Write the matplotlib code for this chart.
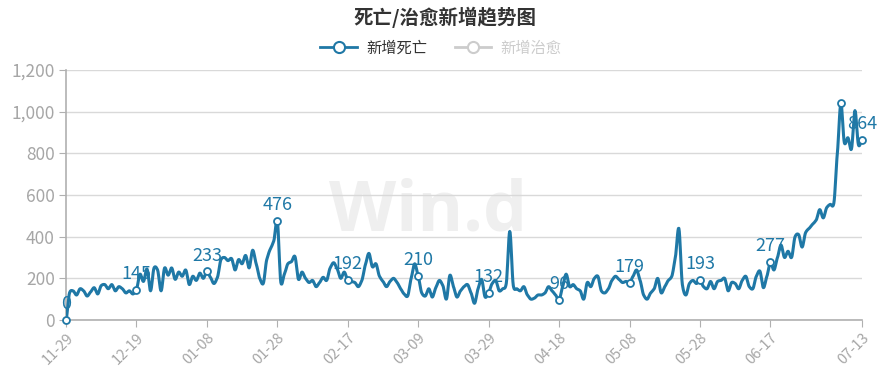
import matplotlib
matplotlib.use('Agg')

import matplotlib.pyplot as plt
from matplotlib.lines import Line2D
import numpy as np
import pandas as pd

plt.rcParams['font.family'] = ['Noto Sans CJK SC', 'DejaVu Sans']

# daily dates shown on the category axis
dates = pd.date_range('2022-11-29', '2023-07-13', freq='D').strftime('%m-%d').tolist()

# new deaths per day
deaths = [
    0, 130, 140, 120, 150, 140, 115, 135, 155, 125,
    165, 170, 150, 170, 140, 160, 150, 130, 140, 125,
    145, 220, 185, 245, 140, 250, 240, 140, 250, 215,
    250, 195, 230, 210, 240, 170, 210, 190, 225, 200,
    233, 205, 175, 205, 290, 300, 285, 295, 240, 290,
    270, 310, 250, 335, 270, 200, 175, 290, 340, 380,
    476, 180, 220, 270, 280, 305, 195, 230, 200, 180,
    190, 160, 180, 205, 190, 250, 275, 245, 200, 230,
    192, 185, 180, 160, 190, 265, 320, 255, 270, 210,
    185, 160, 185, 200, 180, 150, 125, 115, 200, 270,
    210, 130, 115, 150, 110, 155, 190, 165, 100, 215,
    160, 110, 140, 160, 170, 130, 80, 150, 195, 110,
    132, 175, 190, 140, 150, 175, 425, 165, 150, 140,
    160, 120, 100, 105, 120, 120, 130, 160, 140, 120,
    96, 160, 220, 160, 170, 150, 140, 100, 180, 160,
    200, 210, 140, 130, 150, 190, 210, 195, 180, 185,
    179, 210, 240, 190, 120, 100, 130, 150, 200, 130,
    160, 190, 210, 300, 440, 170, 120, 175, 190, 175,
    193, 160, 150, 185, 150, 185, 190, 200, 140, 180,
    175, 150, 190, 210, 160, 150, 210, 235, 155, 210,
    277, 240, 300, 360, 300, 330, 300, 400, 410, 350,
    420, 440, 460, 480, 530, 490, 540, 555, 560, 800,
    1040, 850, 875, 820, 1005, 840, 864,
]

# points with a marker, and which of them carry a value label
marker_idx = [0, 20, 40, 60, 80, 100, 120, 140, 160, 180, 200, 220, 226]
label_idx = [0, 20, 40, 60, 80, 100, 120, 140, 160, 180, 200, 226]
tick_idx = [0, 20, 40, 60, 80, 100, 120, 140, 160, 180, 200, 226]

y_ticks = [0, 200, 400, 600, 800, 1000, 1200]

LINE = '#1f78a6'
GRAY = '#a6a6a6'


def smooth(x, y, n=8):
    """Catmull-Rom style smoothing of the polyline"""
    x = np.asarray(x, float)
    y = np.asarray(y, float)
    ext = np.concatenate([[y[0]], y, [y[-1]]])
    xs, ys = [], []
    for i in range(len(y) - 1):
        p0, p1, p2, p3 = ext[i], ext[i + 1], ext[i + 2], ext[i + 3]
        m1 = (p2 - p0) / 2 * 0.7
        m2 = (p3 - p1) / 2 * 0.7
        t = np.linspace(0, 1, n, endpoint=False)
        h00 = 2 * t**3 - 3 * t**2 + 1
        h10 = t**3 - 2 * t**2 + t
        h01 = -2 * t**3 + 3 * t**2
        h11 = t**3 - t**2
        xs.append(x[i] + t * (x[i + 1] - x[i]))
        ys.append(h00 * p1 + h10 * m1 + h01 * p2 + h11 * m2)
    xs.append([x[-1]])
    ys.append([y[-1]])
    return np.concatenate(xs), np.concatenate(ys)


fig = plt.figure(figsize=(8.89, 3.87), dpi=100)
ax = fig.add_axes([66 / 889, 67 / 387, 796 / 889, 250 / 387])

x = np.arange(len(deaths))
sx, sy = smooth(x, deaths)
ax.plot(sx, sy, color=LINE, lw=2.2, zorder=3, solid_joinstyle='round')
ax.plot(x[marker_idx], np.array(deaths)[marker_idx], 'o', ms=5, mfc='white',
        mec=LINE, mew=1.3, zorder=4, clip_on=False)

for i in label_idx:
    ax.annotate(f'{deaths[i]}', (i, deaths[i]), xytext=(0, 5),
                textcoords='offset points', ha='center', va='bottom',
                fontsize=13, color=LINE, zorder=5)

# watermark
ax.text(0.455, 0.43, 'Win.d', transform=ax.transAxes, ha='center', va='center',
        fontsize=50, fontweight='bold', color='#efefef', zorder=0,
        family='Open Sans')

ax.set_xlim(0, len(deaths) - 1)
ax.set_ylim(0, 1200)
ax.set_yticks(y_ticks)
ax.set_yticklabels([f'{v:,}' for v in y_ticks])
ax.set_xticks(tick_idx)
ax.set_xticklabels([dates[i] for i in tick_idx], rotation=45, ha='right',
                   rotation_mode='anchor')
ax.grid(axis='y', color='#d9d9d9', lw=1)
ax.set_axisbelow(True)
for side in ['top', 'right']:
    ax.spines[side].set_visible(False)
for side in ['left', 'bottom']:
    ax.spines[side].set_color('#b0b0b0')
    ax.spines[side].set_linewidth(1.2)
ax.tick_params(axis='y', colors='#b0b0b0', labelcolor=GRAY, labelsize=12.5, length=5, pad=3)
ax.tick_params(axis='x', colors='#b0b0b0', labelcolor=GRAY, labelsize=10.5, length=5, pad=3)

fig.text(0.5, 1 - 17 / 387, '死亡/治愈新增趋势图', ha='center', va='center',
         fontsize=14, fontweight='bold', color='#333333')

handles = [
    Line2D([], [], color=LINE, lw=2, marker='o', ms=8, mfc='white', mec=LINE, mew=1.5),
    Line2D([], [], color='#cccccc', lw=2, marker='o', ms=8, mfc='white', mec='#cccccc', mew=1.5),
]
fig.legend(handles, ['新增死亡', '新增治愈'], loc='center', ncol=2,
           bbox_to_anchor=(0.496, 1 - 48 / 387), frameon=False, fontsize=11,
           handlelength=2.4, columnspacing=1.8, handletextpad=0.6,
           labelcolor=['#333333', '#cccccc'])

fig.savefig('out.png', dpi=100)
